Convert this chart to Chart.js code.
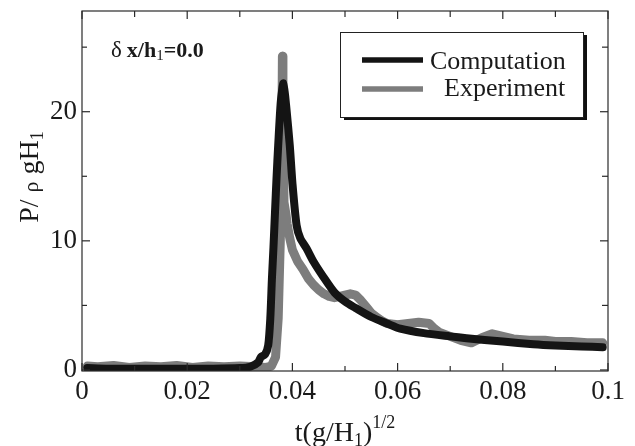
<!DOCTYPE html>
<html><head><meta charset="utf-8">
<script src="https://cdn.jsdelivr.net/npm/chart.js@4/dist/chart.umd.min.js"></script>
<style>html,body{margin:0;padding:0;background:#fff;}#wrap{width:635px;height:446px;}</style>
</head><body><div id="wrap"><canvas id="c" width="635" height="446"></canvas></div>
<script>
const compT = [0.001,0.005,0.010,0.015,0.020,0.025,0.030,0.032,0.0335,0.034,0.0348,0.0354,0.0358,0.0361,0.0364,0.0367,0.0370,0.0373,0.0378,0.0383,0.0388,0.0395,0.0400,0.0408,0.0415,0.0427,0.0440,0.0459,0.0480,0.0500,0.0520,0.0550,0.0580,0.0605,0.0650,0.0700,0.0731,0.0800,0.0858,0.0900,0.0950,0.0990];
const compP = [0.15,0.10,0.10,0.10,0.10,0.10,0.15,0.25,0.6,1.0,1.2,1.9,4.0,7.0,9.5,12.3,15.0,17.4,20.8,22.2,20.5,17.4,14.5,11.2,10.2,9.4,8.4,7.2,6.0,5.3,4.8,4.1,3.6,3.2,2.85,2.6,2.46,2.2,2.0,1.9,1.82,1.76];
const expT = [0.001,0.003,0.006,0.009,0.012,0.015,0.018,0.021,0.024,0.027,0.030,0.033,0.035,0.036,0.0368,0.0373,0.0377,0.0380,0.0381,0.0382,0.0384,0.0388,0.0390,0.0395,0.0400,0.0410,0.0420,0.0430,0.0440,0.0450,0.0460,0.0470,0.0480,0.0490,0.0500,0.0510,0.0520,0.0530,0.0540,0.0550,0.0560,0.0570,0.0580,0.0600,0.0620,0.0640,0.0660,0.0670,0.0680,0.0700,0.0720,0.0740,0.0760,0.0780,0.0800,0.0820,0.0850,0.0880,0.0900,0.0930,0.0960,0.0990];
const expP = [0.3,0.25,0.35,0.2,0.3,0.25,0.35,0.2,0.3,0.25,0.3,0.25,0.2,0.3,1.0,4.0,10.0,18.0,24.3,20.0,13.0,12.0,11.3,10.2,9.3,8.4,7.8,7.1,6.6,6.2,5.9,5.7,5.6,5.7,5.8,5.9,5.8,5.4,4.9,4.4,4.1,3.8,3.6,3.5,3.6,3.7,3.6,3.2,2.9,2.6,2.3,2.1,2.5,2.8,2.6,2.4,2.3,2.3,2.2,2.2,2.1,2.1];
const seriesNames = ['Computation','Experiment'];
const xTicks = [0,0.02,0.04,0.06,0.08,0.1];
const xMinor = [0.01,0.03,0.05,0.07,0.09];
const yTicks = [0,10,20];
const yMinor = [5,15,25];

const SERIF = '"Liberation Serif", "DejaVu Serif", serif';
const BLACK = '#141414', GRAY = 'rgb(125,125,125)';

function runs(ctx, parts, x, y) {
  for (const [t, s, w, dy] of parts) {
    ctx.font = (w || 'normal') + ' ' + s + 'px ' + SERIF;
    ctx.fillText(t, x, y + (dy || 0));
    x += ctx.measureText(t).width;
  }
  return x;
}
function runsWidth(ctx, parts) {
  let w = 0;
  for (const [t, s, wt] of parts) { ctx.font = (wt || 'normal') + ' ' + s + 'px ' + SERIF; w += ctx.measureText(t).width; }
  return w;
}

const deco = {
  id: 'deco',
  afterDatasetsDraw(chart) {
    const {ctx, chartArea: a, scales: {x, y}} = chart;
    ctx.save();
    ctx.strokeStyle = '#2a2a2a';
    ctx.lineWidth = 1.2;
    ctx.strokeRect(a.left, a.top, a.right - a.left, a.bottom - a.top);
    const seg = (x1, y1, x2, y2) => { ctx.beginPath(); ctx.moveTo(x1, y1); ctx.lineTo(x2, y2); ctx.stroke(); };
    xTicks.forEach(v => { const p = x.getPixelForValue(v); seg(p, a.bottom, p, a.bottom - 8); seg(p, a.top, p, a.top + 8); });
    xMinor.forEach(v => { const p = x.getPixelForValue(v); seg(p, a.bottom, p, a.bottom - 5); seg(p, a.top, p, a.top + 6); });
    yTicks.forEach(v => { const p = y.getPixelForValue(v); seg(a.left, p, a.left + 8, p); seg(a.right, p, a.right - 8, p); });
    yMinor.forEach(v => { const p = y.getPixelForValue(v); seg(a.left, p, a.left + 5, p); seg(a.right, p, a.right - 6, p); });
    ctx.restore();
  },
  afterDraw(chart) {
    const {ctx, chartArea: a} = chart;
    ctx.save();
    const lx = a.left + 258, ly = a.top + 21, lw = 243, lh = 85;
    ctx.fillStyle = '#111';
    ctx.fillRect(lx + 4, ly + 3, lw, lh);
    ctx.fillStyle = '#fff';
    ctx.fillRect(lx, ly, lw, lh);
    ctx.strokeStyle = '#222';
    ctx.lineWidth = 1;
    ctx.strokeRect(lx + 0.5, ly + 0.5, lw, lh);
    const ds = chart.data.datasets;
    const rows = [[ly + 28, lx + 90, ly + 36.5], [ly + 57, lx + 104, ly + 63.5]];
    ds.forEach((d, i) => {
      ctx.strokeStyle = d.borderColor;
      ctx.lineWidth = 5.5;
      ctx.beginPath(); ctx.moveTo(lx + 22, rows[i][0]); ctx.lineTo(lx + 83, rows[i][0]); ctx.stroke();
      ctx.fillStyle = '#1a1a1a';
      ctx.font = '26px ' + SERIF;
      ctx.textBaseline = 'alphabetic';
      ctx.fillText(d.label, rows[i][1], rows[i][2]);
    });
    ctx.fillStyle = '#1a1a1a';
    ctx.textBaseline = 'alphabetic';
    runs(ctx, [['δ', 23, 'normal', 0], ['  ', 10, 'normal', 0], ['x/h', 22, 'bold', 0], ['1', 15, 'normal', 3], ['=0.0', 22, 'bold', 0]], a.left + 29, a.top + 45.5);
    const xt = [['t(g/H', 28, 'normal', 0], ['1', 18, 'normal', 5], [')', 28, 'normal', 0], ['1/2', 18, 'normal', -13]];
    const xw = runsWidth(ctx, xt);
    runs(ctx, xt, (a.left + a.right) / 2 - xw / 2, 441);
    ctx.translate(38, 0);
    ctx.rotate(-Math.PI / 2);
    const yt = [['P/ ', 28, 'normal', 0], ['ρ', 22, 'normal', 0], [' gH', 28, 'normal', 0], ['1', 18, 'normal', 5]];
    const yw = runsWidth(ctx, yt);
    runs(ctx, yt, -(177 + yw / 2), 0);
    ctx.restore();
  }
};

new Chart(document.getElementById('c'), {
  type: 'line',
  data: {
    datasets: [
      { label: seriesNames[0], data: compT.map((t, i) => ({x: t, y: compP[i]})), borderColor: BLACK, borderWidth: 8,
        pointRadius: 0, tension: 0.25, borderJoinStyle: 'round', borderCapStyle: 'round', fill: false },
      { label: seriesNames[1], data: expT.map((t, i) => ({x: t, y: expP[i]})), borderColor: GRAY, borderWidth: 9,
        pointRadius: 0, tension: 0, borderJoinStyle: 'round', borderCapStyle: 'round', fill: false }
    ]
  },
  options: {
    responsive: false, animation: false, devicePixelRatio: 1,
    layout: { padding: { left: 0, top: 11, right: 27, bottom: 0 } },
    plugins: { legend: { display: false }, tooltip: { enabled: false }, title: { display: false } },
    scales: {
      x: {
        type: 'linear', min: 0, max: 0.1,
        grid: { display: false, drawTicks: false }, border: { display: false },
        afterBuildTicks: s => { s.ticks = xTicks.map(v => ({value: v})); },
        afterFit: s => { s.height = 75; s.paddingLeft = 0; s.paddingRight = 0; },
        ticks: { color: '#1a1a1a', padding: 5, maxRotation: 0, autoSkip: false,
          font: { family: SERIF, size: 27 },
          callback: v => v === 0 ? '0' : String(+v.toFixed(2)) }
      },
      y: {
        type: 'linear', min: -0.08, max: 27.8,
        grid: { display: false, drawTicks: false }, border: { display: false },
        afterBuildTicks: s => { s.ticks = yTicks.map(v => ({value: v})); },
        afterFit: s => { s.width = 82; s.paddingTop = 0; s.paddingBottom = 0; },
        ticks: { color: '#1a1a1a', padding: 5, autoSkip: false,
          font: { family: SERIF, size: 27 },
          callback: v => String(v) }
      }
    }
  },
  plugins: [deco]
});
</script>
</body></html>
